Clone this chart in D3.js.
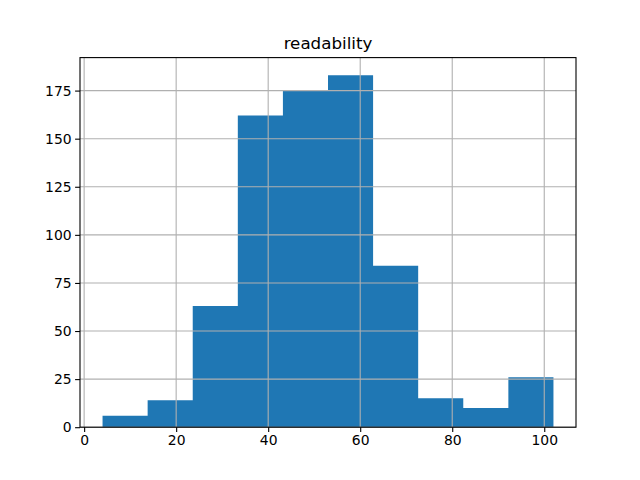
<!DOCTYPE html>
<html>
<head>
<meta charset="utf-8">
<script src="https://cdn.jsdelivr.net/npm/d3@7"></script>
<style>
  body { margin: 0; background: #fff; }
  svg { font-family: "DejaVu Sans", sans-serif; }
</style>
</head>
<body>
<svg id="chart"></svg>
<script>
let title = "readability";
let binEdges = [4, 13.8, 23.6, 33.4, 43.2, 53, 62.8, 72.6, 82.4, 92.2, 102];
let counts = [6, 14, 63, 162, 175, 183, 84, 15, 10, 26];
let xTicks = [0, 20, 40, 60, 80, 100];
let yTicks = [0, 25, 50, 75, 100, 125, 150, 175];

let width = 640;
let height = 480;
let axLeft = 80, axRight = 576, axTop = 57.6, axBottom = 427.2;

let svg = d3.select("#chart").attr("width", width).attr("height", height);

let dMin = binEdges[0], dMax = binEdges[binEdges.length - 1];
let pad = (dMax - dMin) * 0.05;
let xScale = d3.scaleLinear().domain([dMin - pad, dMax + pad]).range([axLeft, axRight]);
let yScale = d3.scaleLinear().domain([0, d3.max(counts) * 1.05]).range([axBottom, axTop]);

let bins = counts.map((c, i) => ({ x0: binEdges[i], x1: binEdges[i + 1], count: c }));

// bars in one path so neighbouring bars don't show anti-aliased seams
let barPath = d3.path();
bins.forEach((d) => {
  barPath.rect(
    xScale(d.x0),
    yScale(d.count),
    xScale(d.x1) - xScale(d.x0),
    yScale(0) - yScale(d.count)
  );
});
svg.append("path")
  .attr("d", barPath.toString())
  .attr("fill", "#1f77b4");

// grid on top of bars, like pandas hist
let grid = svg.append("g").attr("stroke", "#b0b0b0").attr("stroke-width", 1.1);
grid.selectAll(".vgrid")
  .data(xTicks)
  .enter()
  .append("line")
  .attr("x1", (d) => xScale(d))
  .attr("x2", (d) => xScale(d))
  .attr("y1", axTop)
  .attr("y2", axBottom);
grid.selectAll(".hgrid")
  .data(yTicks)
  .enter()
  .append("line")
  .attr("x1", axLeft)
  .attr("x2", axRight)
  .attr("y1", (d) => yScale(d))
  .attr("y2", (d) => yScale(d));

// axes
let xAxis = d3.axisBottom(xScale).tickValues(xTicks).tickSize(4.9).tickPadding(3.5).tickFormat(d3.format("d"));
let yAxis = d3.axisLeft(yScale).tickValues(yTicks).tickSize(4.9).tickPadding(3.5).tickFormat(d3.format("d"));

let gx = svg.append("g")
  .attr("transform", "translate(0," + axBottom + ")")
  .call(xAxis);
let gy = svg.append("g")
  .attr("transform", "translate(" + axLeft + ",0)")
  .call(yAxis);

[gx, gy].forEach((g) => {
  g.select(".domain").remove();
  g.selectAll(".tick line").attr("stroke", "#000").attr("stroke-width", 1.1);
  g.selectAll(".tick text")
    .attr("fill", "#000")
    .style("font-family", "DejaVu Sans")
    .style("font-size", "13.9px");
});

// frame
svg.append("rect")
  .attr("x", axLeft)
  .attr("y", axTop)
  .attr("width", axRight - axLeft)
  .attr("height", axBottom - axTop)
  .attr("fill", "none")
  .attr("stroke", "#000")
  .attr("stroke-width", 1.1);

svg.append("text")
  .attr("x", (axLeft + axRight) / 2)
  .attr("y", axTop - 8.3)
  .attr("text-anchor", "middle")
  .style("font-size", "16.7px")
  .attr("fill", "#000")
  .text(title);
</script>
</body>
</html>
